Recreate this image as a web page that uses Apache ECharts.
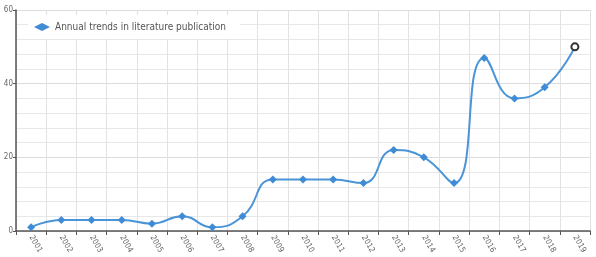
<!DOCTYPE html>
<html lang="en">
<head>
    <meta charset="UTF-8">
    <title>Annual trends in literature publication</title>
    <script src="https://cdn.jsdelivr.net/npm/echarts@6/dist/echarts.min.js"></script>
    <style>
        html, body { margin: 0; padding: 0; background: #fff; }
        #chart { width: 596px; height: 257px; }
    </style>
</head>
<body>
    <div id="chart"></div>
    <script>
        // data
        var years = ['2001', '2002', '2003', '2004', '2005', '2006', '2007', '2008', '2009', '2010',
            '2011', '2012', '2013', '2014', '2015', '2016', '2017', '2018', '2019'];
        var counts = [1, 3, 3, 3, 2, 4, 1, 4, 14, 14, 14, 13, 22, 20, 13, 47, 36, 39, 50];
        var seriesName = 'Annual trends in literature publication';

        var myChart = echarts.init(document.getElementById('chart'));
        var lineData = counts.map(function (v, i) {
            if (i === counts.length - 1) {
                // last point is drawn hollow with a dark ring
                return { value: v, symbol: 'emptyCircle', symbolSize: 7, itemStyle: { color: '#333', borderWidth: 2 } };
            }
            return v;
        });

        var option = {
            animation: false,
            textStyle: { fontFamily: 'DejaVu Sans Condensed, Roboto, sans-serif' },
            grid: { left: 16, right: 6, top: 10, bottom: 26 },
            legend: {
                left: 28, top: 15,
                backgroundColor: '#fff',
                padding: [7, 14, 7, 6],
                itemWidth: 16, itemHeight: 8,
                textStyle: { color: '#555', fontSize: 10, fontFamily: 'DejaVu Sans Condensed, sans-serif' },
                data: [{ name: seriesName, icon: 'diamond' }]
            },
            xAxis: {
                type: 'category',
                data: years,
                boundaryGap: true,
                axisLine: { lineStyle: { color: '#555', width: 1.5 } },
                axisTick: { show: true, lineStyle: { color: '#555' }, length: 4 },
                axisLabel: { rotate: -60, color: '#666', fontSize: 8, margin: 5, interval: 0 },
                splitLine: { show: true, lineStyle: { color: '#e2e2e2' } }
            },
            yAxis: {
                type: 'value',
                min: 0, max: 60, interval: 20,
                axisLine: { show: true, lineStyle: { color: '#555', width: 1.5 } },
                axisTick: { show: true, length: 3, lineStyle: { color: '#555' } },
                axisLabel: { color: '#666', fontSize: 8, margin: 3 },
                splitLine: { show: true, lineStyle: { color: '#dcdcdc' } },
                minorTick: { show: false, splitNumber: 5 },
                minorSplitLine: { show: true, lineStyle: { color: '#e8e8e8' } }
            },
            series: [{
                name: seriesName,
                type: 'line',
                smooth: true,
                symbol: 'diamond',
                symbolSize: 8,
                lineStyle: { color: '#4a94d8', width: 2 },
                itemStyle: { color: '#3f8bd6' },
                data: lineData
            }]
        };
        myChart.setOption(option);
    </script>
</body>
</html>
